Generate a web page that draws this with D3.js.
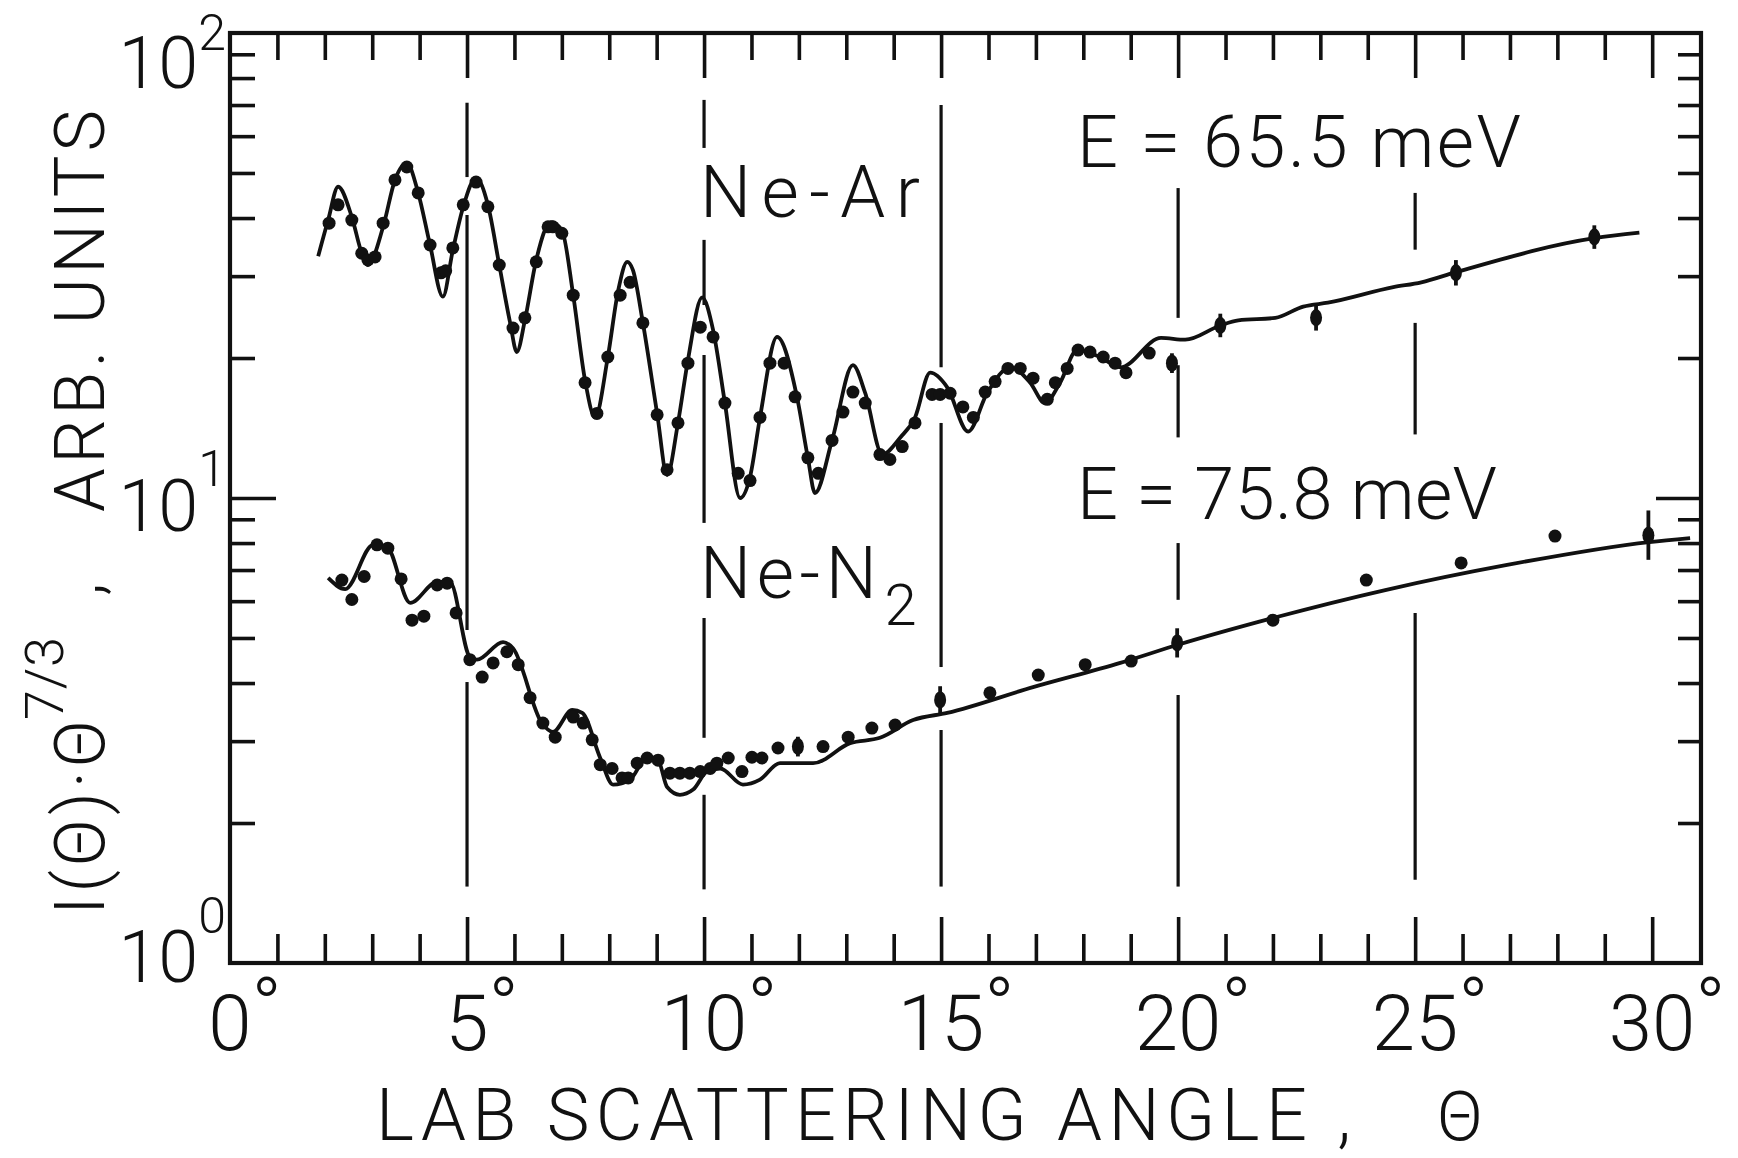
<!DOCTYPE html>
<html><head><meta charset="utf-8">
<script src="https://cdn.jsdelivr.net/npm/d3@7"></script>
<style>body{margin:0;background:#fff}svg{display:block}</style>
</head><body>
<svg id="c" width="1738" height="1158"></svg>
<script>
// ---------- data (angle in degrees, intensity in arbitrary units) ----------
const xTickLabels = ["0","5","10","15","20","25","30"];
const xTickValues = [0,5,10,15,20,25,30];
const yTickValues = [1,10,100];
const yTickExponents = ["0","1","2"];

const neArPoints = [[2.09,39.0],[2.28,42.7],[2.57,39.6],[2.78,33.6],[2.91,32.5],[3.06,33.0],[3.23,39.0],[3.48,48.3],[3.73,51.5],[3.97,45.3],[4.22,35.0],[4.45,30.5],[4.55,30.8],[4.70,34.5],[4.92,42.7],[5.19,47.8],[5.44,42.3],[5.68,31.7],[5.97,23.2],[6.22,24.4],[6.46,32.2],[6.71,38.3],[6.81,38.3],[7.00,37.1],[7.24,27.3],[7.49,17.7],[7.74,15.2],[7.97,20.1],[8.23,27.3],[8.44,29.1],[8.71,23.8],[9.01,15.1],[9.22,11.5],[9.45,14.5],[9.66,19.5],[9.92,23.3],[10.19,22.2],[10.44,16.0],[10.72,11.3],[10.97,10.9],[11.18,14.9],[11.39,19.5],[11.69,19.5],[11.92,16.5],[12.19,12.2],[12.41,11.3],[12.70,13.3],[12.93,15.3],[13.14,16.9],[13.40,16.0],[13.71,12.4],[13.92,12.1],[14.18,12.9],[14.45,14.5],[14.81,16.7],[14.98,16.7],[15.19,16.8],[15.46,15.7],[15.68,14.9],[15.93,16.9],[16.14,17.8],[16.41,19.0],[16.67,19.0],[16.94,18.1],[17.24,16.3],[17.41,17.7],[17.66,19.0],[17.89,20.8],[18.14,20.6],[18.42,20.1],[18.67,19.5],[18.90,18.6],[19.39,20.5]];
const neArErrPoints = [[19.87,19.5],[20.89,23.5],[22.91,24.4],[25.86,30.5],[28.78,36.4]];
const neArErrFraction = [0.05,0.06,0.065,0.065,0.06];
const neArCurve = [[1.86,33.1],[2.07,39.6],[2.28,46.7],[2.57,40.2],[2.78,33.6],[2.91,31.7],[3.23,38.3],[3.48,48.3],[3.73,52.5],[3.97,45.3],[4.22,35.0],[4.49,27.1],[4.70,34.1],[4.92,42.3],[5.19,48.8],[5.44,42.7],[5.68,31.7],[5.91,23.8],[6.05,20.6],[6.22,24.1],[6.46,32.5],[6.77,39.2],[7.00,37.7],[7.24,27.3],[7.49,17.9],[7.70,14.9],[7.97,20.1],[8.19,28.0],[8.38,32.2],[8.50,30.9],[8.71,23.8],[9.01,15.2],[9.22,11.2],[9.45,14.5],[9.66,19.8],[9.96,27.0],[10.19,23.0],[10.44,16.0],[10.76,10.0],[10.97,11.1],[11.18,14.9],[11.54,22.2],[11.96,16.5],[12.19,12.2],[12.34,10.25],[12.70,13.3],[13.14,19.3],[13.40,16.8],[13.76,12.4],[14.14,13.5],[14.45,14.9],[14.77,18.6],[15.13,17.3],[15.57,13.9],[15.97,16.8],[16.46,19.1],[16.88,17.7],[17.19,16.0],[17.51,17.7],[17.87,20.8],[18.35,20.1],[18.78,19.1],[19.64,22.1],[20.15,21.9],[20.89,23.5],[21.27,24.1],[22.05,24.4],[22.64,25.8],[23.16,26.3],[24.54,28.4],[25.13,29.1],[25.86,30.6],[28.78,36.2],[29.73,37.2]];

const neN2Points = [[2.36,6.66],[2.57,6.05],[2.83,6.78],[3.10,7.93],[3.33,7.8],[3.61,6.7],[3.84,5.46],[4.09,5.57],[4.37,6.5],[4.58,6.56],[4.77,5.66],[5.06,4.49],[5.32,4.12],[5.55,4.42],[5.84,4.67],[6.08,4.38],[6.33,3.72],[6.60,3.28],[6.86,3.06],[7.24,3.38],[7.45,3.28],[7.64,3.02],[7.81,2.67],[8.06,2.62],[8.27,2.50],[8.40,2.50],[8.59,2.69],[8.80,2.76],[9.03,2.73],[9.28,2.56],[9.49,2.56],[9.70,2.56],[9.92,2.58],[10.13,2.62],[10.27,2.69],[10.51,2.76],[10.80,2.58],[11.01,2.77],[11.22,2.76],[11.56,2.90],[12.51,2.92],[13.04,3.06],[13.54,3.20],[14.03,3.25],[16.03,3.81],[17.05,4.16],[18.04,4.38],[19.01,4.46],[22.0,5.46],[23.97,6.66],[25.97,7.25],[27.95,8.28]];
const neN2ErrPoints = [[11.98,2.92],[14.98,3.68],[19.98,4.88],[29.92,8.32]];
const neN2ErrFraction = [0.05,0.07,0.075,0.13];
const neN2Curve = [[2.07,6.73],[2.43,6.37],[3.02,7.93],[3.31,7.85],[3.80,5.95],[4.37,6.6],[4.64,6.6],[5.06,4.55],[5.21,4.49],[5.76,4.90],[5.97,4.75],[6.58,3.28],[6.81,3.14],[7.22,3.50],[7.43,3.45],[7.81,2.76],[8.08,2.42],[8.44,2.48],[8.80,2.77],[9.03,2.73],[9.22,2.39],[9.49,2.30],[9.77,2.36],[10.06,2.58],[10.34,2.62],[10.82,2.42],[11.18,2.48],[11.60,2.69],[12.30,2.69],[13.08,2.97],[13.71,3.05],[14.41,3.33],[15.13,3.45],[16.94,3.92],[18.78,4.42],[19.98,4.83],[22.0,5.52],[24.37,6.34],[26.94,7.18],[29.94,8.04],[30.8,8.2]];

// vertical guide lines: angle and visible dash segments (value ranges)
const guideAngles = [5,10,15,20,25];
const guideSegments = [
  [[70.8,49.0],[40.6,5.20],[4.02,1.46]],
  [[71.8,56.6],[35.9,26.0],[20.3,8.84],[5.52,3.05],[2.30,1.44]],
  [[70.0,19.1],[14.5,4.33],[3.17,1.46]],
  [[46.4,24.4],[19.3,13.5],[8.0,6.04],[3.77,1.46]],
  [[45.3,34.2],[23.8,13.7],[5.66,1.51]]
];

// ---------- drawing ----------
const svg = d3.select("#c");
const FONT = "Roboto, 'Liberation Sans', Arial, sans-serif";
const WEIGHT = 300;
const x = d3.scaleLinear().domain([0, 31.03]).range([230, 1701]);
const y = d3.scaleLog().domain([1, 100]).range([963, 33]);
const ink = "#111";

svg.append("rect").attr("width",1738).attr("height",1158).attr("fill","#fff");

// guide lines
guideAngles.forEach((a,i)=>{
  guideSegments[i].forEach(s=>{
    svg.append("line").attr("x1",x(a)).attr("x2",x(a)).attr("y1",y(s[0])).attr("y2",y(s[1]))
      .attr("stroke",ink).attr("stroke-width",3.2);
  });
});

// axes (ticks inward)
const minorX = d3.range(1,31).filter(d=>d%5!==0);
const majorX = [5,10,15,20,25,30];
const minorY = [2,3,4,5,6,7,8,9,20,30,40,50,60,70,80,90];
function styleAxis(g){
  g.select(".domain").remove();
  g.selectAll("line").attr("stroke",ink).attr("stroke-width",3.6);
  g.selectAll("text").remove();
}
svg.append("g").attr("transform","translate(0,963)").call(d3.axisBottom(x).tickValues(minorX).tickSize(-29).tickFormat("")).call(styleAxis);
svg.append("g").attr("transform","translate(0,963)").call(d3.axisBottom(x).tickValues(majorX).tickSize(-46).tickFormat("")).call(styleAxis);
svg.append("g").attr("transform","translate(0,33)").call(d3.axisTop(x).tickValues(minorX).tickSize(-27).tickFormat("")).call(styleAxis);
svg.append("g").attr("transform","translate(0,33)").call(d3.axisTop(x).tickValues(majorX).tickSize(-45).tickFormat("")).call(styleAxis);
svg.append("g").attr("transform","translate(230,0)").call(d3.axisLeft(y).tickValues(minorY).tickSize(-25).tickFormat("")).call(styleAxis);
svg.append("g").attr("transform","translate(230,0)").call(d3.axisLeft(y).tickValues([10]).tickSize(-46).tickFormat("")).call(styleAxis);
svg.append("g").attr("transform","translate(1701,0)").call(d3.axisRight(y).tickValues(minorY).tickSize(-23).tickFormat("")).call(styleAxis);
svg.append("g").attr("transform","translate(1701,0)").call(d3.axisRight(y).tickValues([10]).tickSize(-45).tickFormat("")).call(styleAxis);

// frame
svg.append("rect").attr("x",x(0)).attr("y",y(100)).attr("width",x(31.03)-x(0)).attr("height",y(1)-y(100))
  .attr("fill","none").attr("stroke",ink).attr("stroke-width",4.2);

// curves
const line = d3.line().x(d=>x(d[0])).y(d=>y(d[1])).curve(d3.curveMonotoneX);
[neArCurve, neN2Curve].forEach(c=>{
  svg.append("path").attr("d",line(c)).attr("fill","none").attr("stroke",ink).attr("stroke-width",3.8).attr("stroke-linejoin","round");
});

// points
[neArPoints, neN2Points].forEach(p=>{
  svg.append("g").selectAll("circle").data(p).join("circle")
    .attr("cx",d=>x(d[0])).attr("cy",d=>y(d[1])).attr("r",6.5).attr("fill",ink);
});
function errBars(pts, frac){
  const g = svg.append("g");
  pts.forEach((d,i)=>{
    g.append("line").attr("x1",x(d[0])).attr("x2",x(d[0]))
      .attr("y1",y(d[1]*(1+frac[i]))).attr("y2",y(d[1]/(1+frac[i])))
      .attr("stroke",ink).attr("stroke-width",3.8);
    g.append("ellipse").attr("cx",x(d[0])).attr("cy",y(d[1])).attr("rx",6).attr("ry",8.5).attr("fill",ink);
  });
}
errBars(neArErrPoints, neArErrFraction);
errBars(neN2ErrPoints, neN2ErrFraction);

// ---------- text ----------
function txt(opts){
  const t = svg.append("text").attr("font-family",FONT).attr("font-weight",WEIGHT).attr("fill",ink)
    .attr("font-size",opts.size).attr("x",opts.x).attr("y",opts.y)
    .attr("text-anchor",opts.anchor||"start");
  if (opts.transform) t.attr("transform",opts.transform);
  return t;
}
// x tick labels
xTickValues.forEach((v,i)=>{
  const t = txt({x:x(v)+15,y:1050,size:78,anchor:"middle"});
  t.append("tspan").text(xTickLabels[i]);
  t.append("tspan").attr("dy",-16).attr("font-size",80).text("°");
});
// y tick labels
const yLabelShift = [19,33,55];
const ySupShift = [-49,-45,-38];
yTickValues.forEach((v,i)=>{
  const t = txt({x:226,y:y(v)+yLabelShift[i],size:72,anchor:"end"});
  t.append("tspan").text("10");
  t.append("tspan").attr("dy",ySupShift[i]).attr("font-size",50).text(yTickExponents[i]);
});

// x title
txt({x:376,y:1140,size:72}).attr("textLength",975).attr("lengthAdjust","spacing").text("LAB SCATTERING ANGLE ,");
txt({x:1460,y:1140,size:68,anchor:"middle"}).text("Θ");

// y title (rotated, reads bottom to top)
txt({x:0,y:0,size:70,transform:"translate(104,915) rotate(-90)"}).attr("textLength",195).attr("lengthAdjust","spacing").text("I(Θ)·Θ");
txt({x:0,y:0,size:54,transform:"translate(63,720) rotate(-90)"}).attr("textLength",83).attr("lengthAdjust","spacing").text("7/3");
txt({x:0,y:0,size:70,transform:"translate(102,596) rotate(-90)"}).text(",");
txt({x:0,y:0,size:70,transform:"translate(104,512) rotate(-90)"}).attr("textLength",402).attr("lengthAdjust","spacing").text("ARB. UNITS");

// annotations
txt({x:1077,y:167,size:72}).attr("textLength",444).attr("lengthAdjust","spacing").text("E = 65.5 meV");
txt({x:1077,y:519,size:72}).attr("textLength",420).attr("lengthAdjust","spacing").text("E = 75.8 meV");
txt({x:700,y:217,size:72}).attr("textLength",220).attr("lengthAdjust","spacing").text("Ne-Ar");
const n2 = txt({x:700,y:598,size:72});
n2.append("tspan").attr("textLength",177).attr("lengthAdjust","spacing").text("Ne-N");
n2.append("tspan").attr("dx",2).attr("dy",27).attr("font-size",58).text("2");
</script>
</body></html>
